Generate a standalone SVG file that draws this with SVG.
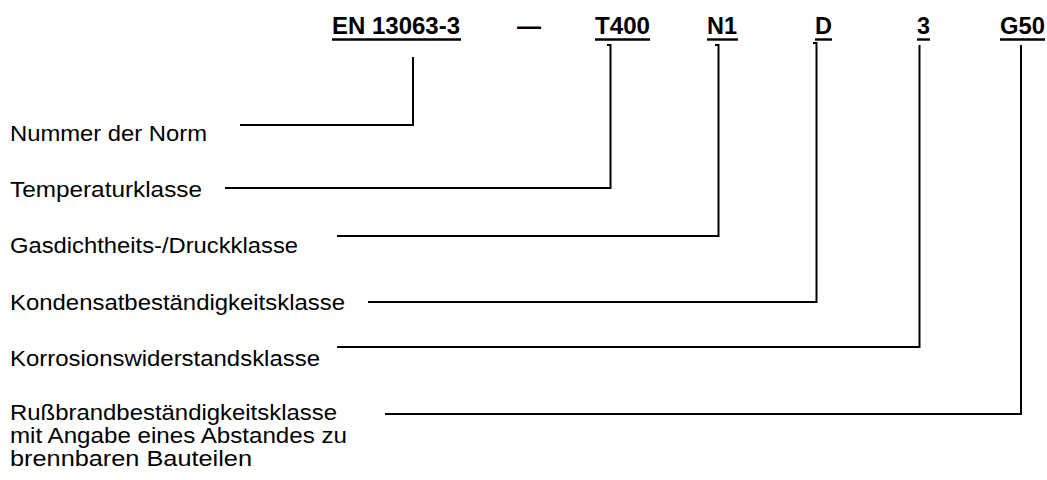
<svg xmlns="http://www.w3.org/2000/svg" width="1047" height="480" viewBox="0 0 1047 480">
<style>
.lbl{font-family:"Liberation Sans",Arial,sans-serif;font-size:22px;fill:#000}
.code{font-family:"Liberation Sans",Arial,sans-serif;font-size:23.5px;font-weight:bold;fill:#000}
.ul{stroke:#000;stroke-width:2.4}
.conn{fill:none;stroke:#000;stroke-width:2}
</style>
<rect width="1047" height="480" fill="#fff"/>
<g id="code-en">
<text class="code" x="332" y="34" textLength="128" lengthAdjust="spacingAndGlyphs">EN 13063-3</text>
<line class="ul" x1="332" y1="39.5" x2="461" y2="39.5"/>
</g>
<g id="code-dash">
<text class="code" x="517" y="34" textLength="24" lengthAdjust="spacingAndGlyphs">—</text>
</g>
<g id="code-t400">
<text class="code" x="595" y="34" textLength="55" lengthAdjust="spacingAndGlyphs">T400</text>
<line class="ul" x1="595" y1="39.5" x2="650" y2="39.5"/>
</g>
<g id="code-n1">
<text class="code" x="707" y="34" textLength="30" lengthAdjust="spacingAndGlyphs">N1</text>
<line class="ul" x1="707" y1="39.5" x2="738" y2="39.5"/>
</g>
<g id="code-d">
<text class="code" x="815" y="34" textLength="17" lengthAdjust="spacingAndGlyphs">D</text>
<line class="ul" x1="815" y1="39.5" x2="832" y2="39.5"/>
</g>
<g id="code-3">
<text class="code" x="917" y="34" textLength="13" lengthAdjust="spacingAndGlyphs">3</text>
<line class="ul" x1="917" y1="39.5" x2="930" y2="39.5"/>
</g>
<g id="code-g50">
<text class="code" x="1000" y="34" textLength="45" lengthAdjust="spacingAndGlyphs">G50</text>
<line class="ul" x1="1000" y1="39.5" x2="1045" y2="39.5"/>
</g>
<g id="label-norm">
<text class="lbl" x="10" y="141" textLength="197" lengthAdjust="spacingAndGlyphs">Nummer der Norm</text>
</g>
<g id="label-temp">
<text class="lbl" x="10" y="197" textLength="192" lengthAdjust="spacingAndGlyphs">Temperaturklasse</text>
</g>
<g id="label-gas">
<text class="lbl" x="10" y="253" textLength="288" lengthAdjust="spacingAndGlyphs">Gasdichtheits-/Druckklasse</text>
</g>
<g id="label-kond">
<text class="lbl" x="10" y="310" textLength="335" lengthAdjust="spacingAndGlyphs">Kondensatbeständigkeitsklasse</text>
</g>
<g id="label-korr">
<text class="lbl" x="10" y="366" textLength="310" lengthAdjust="spacingAndGlyphs">Korrosionswiderstandsklasse</text>
</g>
<g id="label-russ">
<text class="lbl" x="10" y="420" textLength="327" lengthAdjust="spacingAndGlyphs">Rußbrandbeständigkeitsklasse</text>
<text class="lbl" x="10" y="443" textLength="337" lengthAdjust="spacingAndGlyphs">mit Angabe eines Abstandes zu</text>
<text class="lbl" x="10" y="466" textLength="242" lengthAdjust="spacingAndGlyphs">brennbaren Bauteilen</text>
</g>
<g id="connectors">
<polyline class="conn" points="413,57 413,125 240,125"/>
<polyline class="conn" points="607,45 610.5,45 610.5,188 225,188"/>
<polyline class="conn" points="715,45 718.5,45 718.5,236 337,236"/>
<polyline class="conn" points="813,43 816.5,43 816.5,302 368,302"/>
<polyline class="conn" points="919.5,45 919.5,347 337,347"/>
<polyline class="conn" points="1021,45 1021,414 385,414"/>
</g>
</svg>
